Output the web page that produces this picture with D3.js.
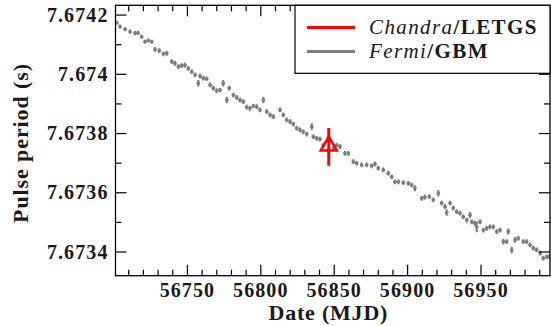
<!DOCTYPE html>
<html>
  <head>
    <script src="https://d3js.org/d3.v7.min.js"></script>
    <style>
      body { margin: 0; background: #fff; }
      text { font-family: "Liberation Serif", serif; font-weight: bold; fill: #1a1a1a; }
    </style>
  </head>
  <body>
    <script type="text/javascript">

    // Fermi/GBM pulse period measurements (MJD, period in s, 1-sigma error in s)
    var gbmDate = [
      56701.8, 56704.1, 56707.5, 56710.9, 56714.3, 56716.3, 56718.8, 56721.1, 56723.3, 56725.7,
      56727.9, 56730.8, 56733.6, 56735.9, 56739.3, 56741.5, 56743.8, 56746.1, 56748.3, 56750.6,
      56752.9, 56755.2, 56757.4, 56758.6, 56760.8, 56763.1, 56765.4, 56767.6, 56769.9, 56772.2,
      56774.4, 56776.8, 56778.5, 56781.3, 56783.6, 56785.8, 56788.1, 56790.4, 56792.6, 56794.9,
      56797.2, 56799.4, 56801.7, 56804.0, 56806.3, 56808.5, 56813.1, 56815.3, 56817.6, 56819.9,
      56822.1, 56824.4, 56826.7, 56828.9, 56831.3, 56834.7, 56835.8, 56838.1, 56840.3, 56842.6,
      56846.0, 56849.4, 56851.7, 56853.9, 56857.3, 56859.6, 56863.0, 56865.3, 56868.7, 56872.1,
      56875.5, 56877.8, 56880.0, 56883.4, 56886.8, 56889.2, 56891.4, 56893.7, 56897.1, 56900.5,
      56902.8, 56905.0, 56909.6, 56911.8, 56914.8, 56917.5, 56920.9, 56923.2, 56925.5, 56926.6,
      56928.9, 56931.1, 56933.4, 56935.7, 56937.9, 56940.3, 56942.5, 56943.7, 56945.9, 56947.1,
      56949.3, 56951.6, 56953.9, 56956.1, 56958.4, 56960.7, 56963.0, 56965.2, 56967.5, 56968.6,
      56970.9, 56973.2, 56975.4, 56978.8, 56981.1, 56983.4, 56985.6, 56987.9, 56990.2, 56992.4,
      56994.8, 56996.6
    ];
    var gbmPeriod = [
      7.674174, 7.674161, 7.674152, 7.674144, 7.674139, 7.674140, 7.674127, 7.674110, 7.674114, 7.674110,
      7.674084, 7.674080, 7.674069, 7.674071, 7.674043, 7.674037, 7.674026, 7.674029, 7.674031, 7.674020,
      7.674009, 7.673998, 7.673970, 7.673994, 7.673987, 7.673985, 7.673964, 7.673953, 7.673945, 7.673947,
      7.673970, 7.673913, 7.673953, 7.673930, 7.673922, 7.673913, 7.673908, 7.673889, 7.673885, 7.673893,
      7.673891, 7.673880, 7.673913, 7.673874, 7.673863, 7.673857, 7.673880, 7.673863, 7.673846, 7.673840,
      7.673832, 7.673818, 7.673812, 7.673806, 7.673798, 7.673823, 7.673789, 7.673784, 7.673781, 7.673761,
      7.673744, 7.673750, 7.673761, 7.673756, 7.673733, 7.673733, 7.673705, 7.673700, 7.673694, 7.673694,
      7.673691, 7.673697, 7.673683, 7.673677, 7.673666, 7.673654, 7.673637, 7.673637, 7.673634, 7.673632,
      7.673626, 7.673615, 7.673581, 7.673585, 7.673587, 7.673576, 7.673598, 7.673565, 7.673553, 7.673533,
      7.673565, 7.673548, 7.673536, 7.673531, 7.673519, 7.673508, 7.673525, 7.673502, 7.673497, 7.673485,
      7.673502, 7.673474, 7.673480, 7.673485, 7.673485, 7.673469, 7.673474, 7.673435, 7.673435, 7.673469,
      7.673407, 7.673441, 7.673446, 7.673435, 7.673435, 7.673424, 7.673413, 7.673407, 7.673396, 7.673379,
      7.673384, 7.673384
    ];
    var gbmError = [
      0.000007, 0.000007, 0.000007, 0.000007, 0.000007, 0.000007, 0.000007, 0.000007, 0.000007, 0.000007,
      0.000008, 0.000008, 0.000008, 0.000008, 0.000008, 0.000008, 0.000008, 0.000008, 0.000008, 0.000008,
      0.000008, 0.000008, 0.000011, 0.000008, 0.000008, 0.000008, 0.000008, 0.000008, 0.000008, 0.000008,
      0.000011, 0.000011, 0.000008, 0.000008, 0.000008, 0.000008, 0.000008, 0.000008, 0.000008, 0.000008,
      0.000008, 0.000008, 0.000011, 0.000008, 0.000008, 0.000008, 0.000008, 0.000008, 0.000008, 0.000008,
      0.000008, 0.000008, 0.000008, 0.000008, 0.000008, 0.000012, 0.000008, 0.000008, 0.000008, 0.000008,
      0.000008, 0.000008, 0.000008, 0.000008, 0.000008, 0.000008, 0.000008, 0.000008, 0.000008, 0.000008,
      0.000008, 0.000008, 0.000008, 0.000008, 0.000008, 0.000008, 0.000008, 0.000008, 0.000008, 0.000008,
      0.000008, 0.000010, 0.000008, 0.000008, 0.000008, 0.000008, 0.000011, 0.000008, 0.000008, 0.000011,
      0.000008, 0.000008, 0.000008, 0.000008, 0.000008, 0.000008, 0.000010, 0.000008, 0.000008, 0.000018,
      0.000008, 0.000008, 0.000008, 0.000008, 0.000008, 0.000008, 0.000008, 0.000010, 0.000008, 0.000010,
      0.000011, 0.000010, 0.000008, 0.000008, 0.000008, 0.000008, 0.000008, 0.000008, 0.000008, 0.000008,
      0.000008, 0.000008
    ];
    var gbmHalfWidth = 1.2;   // days

    // Chandra/LETGS measurement
    var chandraDate = [56846.3];
    var chandraPeriod = [7.673755];
    var chandraError = [0.000064];

    var xTicks = [56750, 56800, 56850, 56900, 56950];
    var yTicks = [7.6734, 7.6736, 7.6738, 7.674, 7.6742];
    var legendLabels = [["Chandra", "/LETGS"], ["Fermi", "/GBM"]];

    var width = 551, height = 326;
    var margin = {left: 115.5, right: 1, top: 5.3, bottom: 50.3};

    var svg = d3.select("body").append("svg")
      .attr("width", width).attr("height", height);

    var x = d3.scaleLinear().domain([56701, 56997])
      .range([margin.left, width - margin.right]);
    var y = d3.scaleLinear().domain([7.67332, 7.674233])
      .range([height - margin.bottom, margin.top]);

    var x0 = x.range()[0], x1 = x.range()[1];
    var y0 = y.range()[0], y1 = y.range()[1];

    svg.append("clipPath").attr("id", "plotclip")
      .append("rect").attr("x", x0).attr("y", y1)
      .attr("width", x1 - x0).attr("height", y0 - y1);

    var plot = svg.append("g").attr("clip-path", "url(#plotclip)");

    // gbm points as error crosses
    var gbm = gbmDate.map(function (d, i) {
      return {d: d, p: gbmPeriod[i], e: gbmError[i]};
    });
    var grey = "#7d7d7d";
    var pts = plot.selectAll("g.gbm").data(gbm).enter().append("g");
    pts.append("line")
      .attr("x1", function (d) { return x(d.d); })
      .attr("x2", function (d) { return x(d.d); })
      .attr("y1", function (d) { return y(d.p - d.e); })
      .attr("y2", function (d) { return y(d.p + d.e); })
      .attr("stroke", grey).attr("stroke-width", 2.1);
    pts.append("line")
      .attr("x1", function (d) { return x(d.d - gbmHalfWidth); })
      .attr("x2", function (d) { return x(d.d + gbmHalfWidth); })
      .attr("y1", function (d) { return y(d.p); })
      .attr("y2", function (d) { return y(d.p); })
      .attr("stroke", grey).attr("stroke-width", 2.4);

    // chandra point
    var red = "#ff0000";
    chandraDate.forEach(function (d, i) {
      var cx = x(d), cy = y(chandraPeriod[i]);
      plot.append("line")
        .attr("x1", cx).attr("x2", cx)
        .attr("y1", y(chandraPeriod[i] - chandraError[i]))
        .attr("y2", y(chandraPeriod[i] + chandraError[i]))
        .attr("stroke", red).attr("stroke-width", 3);
      plot.append("path")
        .attr("d", d3.symbol(d3.symbolTriangle, 110)())
        .attr("transform", "translate(" + cx + "," + (cy - 1) + ")")
        .attr("fill", "none").attr("stroke", red).attr("stroke-width", 2.6);
    });

    // frame
    svg.append("rect")
      .attr("x", x0).attr("y", y1)
      .attr("width", x1 - x0).attr("height", y0 - y1)
      .attr("fill", "none").attr("stroke", "#000").attr("stroke-width", 1.3);

    // ticks, pointing inward, on all four sides
    var major = 11, minor = 6;
    var xMinor = d3.range(56710, 56997, 10);
    var yMinor = d3.range(0, 10).map(function (k) { return 7.6734 + k * 0.0001; });
    var tk = svg.append("g").attr("stroke", "#000").attr("stroke-width", 1.2);
    xMinor.forEach(function (v) {
      var len = (v % 50 === 0) ? major : minor;
      tk.append("line").attr("x1", x(v)).attr("x2", x(v)).attr("y1", y0).attr("y2", y0 - len);
      tk.append("line").attr("x1", x(v)).attr("x2", x(v)).attr("y1", y1).attr("y2", y1 + len);
    });
    yMinor.forEach(function (v, k) {
      if (y(v) < y1 - 0.5) return;
      var len = (k % 2 === 0) ? major : minor;
      tk.append("line").attr("x1", x0).attr("x2", x0 + len).attr("y1", y(v)).attr("y2", y(v));
      tk.append("line").attr("x1", x1).attr("x2", x1 - len).attr("y1", y(v)).attr("y2", y(v));
    });

    // tick labels
    svg.selectAll("text.xt").data(xTicks).enter().append("text")
      .attr("x", function (d) { return x(d); })
      .attr("y", y0 + 21)
      .attr("text-anchor", "middle")
      .style("font-size", "20px")
      .style("letter-spacing", "1.1px")
      .text(function (d) { return d; });
    svg.selectAll("text.yt").data(yTicks).enter().append("text")
      .attr("x", x0 - 7)
      .attr("y", function (d) { return y(d); })
      .attr("dy", "0.33em")
      .attr("text-anchor", "end")
      .style("font-size", "20px")
      .style("letter-spacing", "1.1px")
      .text(function (d) { return d3.format(".5~f")(d); });

    // axis titles
    svg.append("text")
      .attr("x", x(56846)).attr("y", 320)
      .attr("text-anchor", "middle")
      .style("font-size", "22px")
      .style("letter-spacing", "0.8px")
      .text("Date (MJD)");
    svg.append("text")
      .attr("transform", "translate(28,143) rotate(-90)")
      .attr("text-anchor", "middle")
      .style("font-size", "22px")
      .style("letter-spacing", "0.9px")
      .text("Pulse period (s)");

    // legend
    var lg = svg.append("g");
    lg.append("rect")
      .attr("x", 295).attr("y", y1)
      .attr("width", x1 - 295).attr("height", 68)
      .attr("fill", "#fff").attr("stroke", "#000").attr("stroke-width", 1.2);
    var legendColors = [red, grey];
    legendLabels.forEach(function (lab, i) {
      var ly = 27.5 + i * 24;
      lg.append("line")
        .attr("x1", 307).attr("x2", 355).attr("y1", ly).attr("y2", ly)
        .attr("stroke", legendColors[i]).attr("stroke-width", 3);
      var t = lg.append("text").attr("x", 369).attr("y", ly + 6)
        .style("font-size", "21px")
        .style("letter-spacing", "1.4px");
      t.append("tspan").style("font-style", "italic").style("font-weight", "normal").text(lab[0]);
      t.append("tspan").text(lab[1]);
    });

    </script>
  </body>
</html>
